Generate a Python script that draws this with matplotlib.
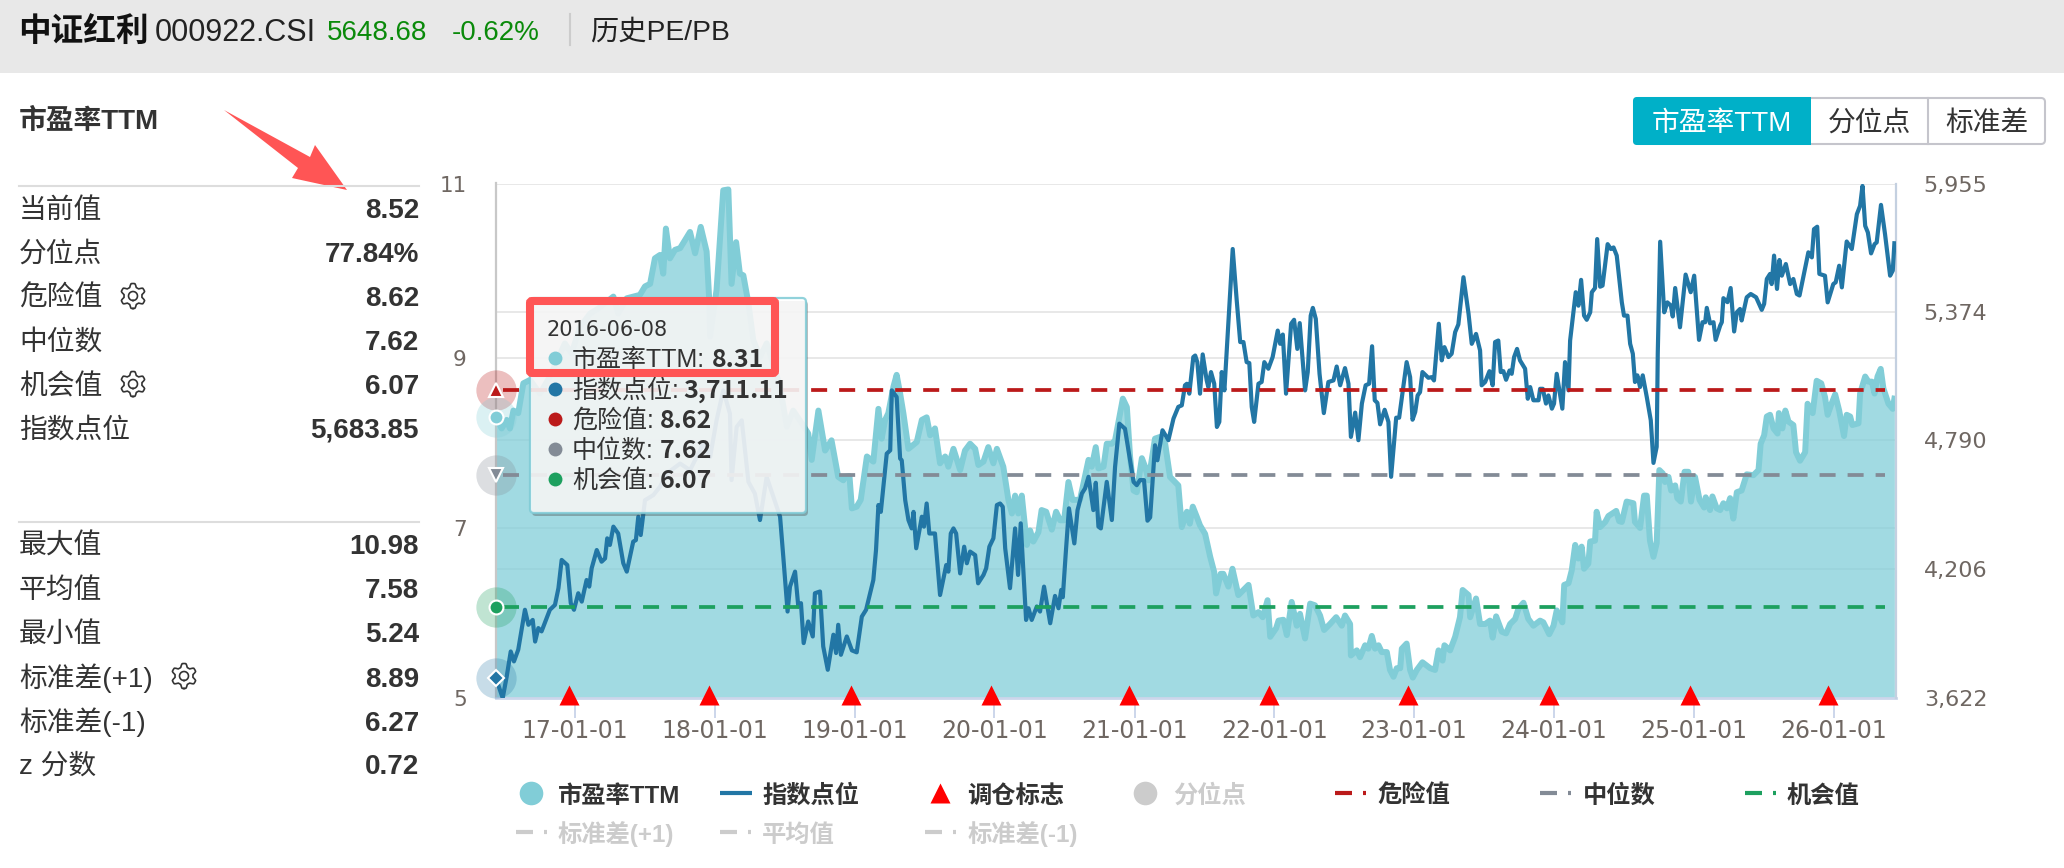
import matplotlib
matplotlib.use("Agg")
import matplotlib.pyplot as plt
import matplotlib.transforms as mtransforms
import numpy as np
from matplotlib.patches import FancyBboxPatch, Polygon, Rectangle

plt.rcParams["font.family"] = ["Liberation Sans", "Noto Sans CJK SC", "DejaVu Sans"]

W, H = 2064, 868

# weeks counted from the first trading date of the series
START = np.datetime64("2016-06-08")

pe_weeks = [
    0, 2.1, 4.0, 5.2, 6.5, 8.3, 10.2, 12.7, 16.4, 20.1, 25.7, 28.2, 31.3, 35.1, 38.2, 43.8, 45.6, 48.8,
    51.2, 53.7, 55.6, 57.5, 59.3, 61.2, 62.4, 63.4, 64.9, 66.8, 68.7, 72.4, 74.3, 76.4, 78.6, 79.5, 79.9,
    82.3, 84.8, 86.7, 87.9, 89.6, 91.0, 92.3, 94.2, 96.0, 98.5, 101.0, 106.0, 108.5, 110.9, 114.1, 116.5,
    117.8, 120.3, 122.8, 125.2, 127.7, 129.6, 130.3, 131.9, 132.8, 134.6, 136.1, 138.4, 140.8, 142.7,
    143.9, 145.2, 146.4, 148.3, 149.5, 150.8, 152.0, 153.9, 157.0, 158.9, 160.7, 162.0, 163.8, 165.7,
    167.6, 168.8, 170.7, 173.2, 175.0, 176.9, 178.8, 180.0, 181.9, 183.7, 185.6, 186.9, 189.3, 191.2,
    192.5, 193.7, 194.9, 196.2, 198.1, 199.3, 200.5, 202.4, 203.6, 205.3, 207.4, 209.0, 210.5, 212.0,
    213.6, 215.1, 217.9, 221.1, 222.3, 223.8, 224.8, 226.7, 227.9, 229.8, 231.0, 233.9, 235.4, 236.6,
    237.9, 239.1, 241.0, 242.2, 243.5, 245.9, 247.8, 249.7, 251.5, 254.6, 255.9, 257.8, 258.9, 260.0,
    261.5, 262.7, 264.6, 266.5, 268.0, 268.7, 270.4, 271.4, 273.3, 274.8, 277.0, 280.8, 282.6, 284.5,
    286.1, 287.9, 288.9, 291.1, 292.0, 293.8, 295.1, 296.9, 298.8, 300.0, 301.9, 303.8, 305.6, 307.5,
    309.0, 311.2, 313.5, 315.6, 316.8, 318.7, 319.0, 321.2, 322.4, 324.3, 325.5, 326.8, 328.0, 329.3,
    330.5, 332.4, 333.6, 334.9, 336.1, 337.4, 338.0, 339.8, 341.1, 342.1, 343.6, 345.7, 348.6, 350.4,
    351.7, 353.2, 353.9, 356.0, 357.9, 359.7, 360.7, 362.9, 363.5, 365.7, 367.2, 369.1, 370.9, 371.9,
    373.2, 375.3, 376.9, 378.4, 380.3, 381.5, 383.4, 385.2, 387.1, 389.6, 390.8, 393.0, 394.6, 395.8,
    397.9, 398.6, 400.2, 401.4, 402.7, 403.9, 405.1, 406.0, 407.6, 408.3, 410.1, 410.7, 412.0, 413.9,
    415.1, 418.0, 419.1, 420.1, 421.9, 424.4, 425.0, 426.9, 428.4, 429.4, 430.6, 431.9, 433.1, 434.1,
    435.4, 436.2, 437.5, 438.5, 440.0, 440.8, 442.1, 443.5, 444.9, 445.9, 447.4, 449.1, 450.8, 451.4,
    453.0, 453.9, 455.5, 456.8, 458.0, 459.3, 460.5, 461.7, 463.0, 464.8, 466.7, 469.2, 471.1, 471.9,
    473.2, 474.2, 475.4, 476.7, 478.2, 478.7, 480.0, 481.1, 482.3, 484.1, 485.1, 486.6, 488.5, 489.4,
    491.3, 492.8, 494.5, 495.9, 496.9, 498.1, 499.7, 501.2, 503.0, 504.0, 505.3, 506.1, 508.4, 509.0,
    510.9, 512.1, 513.4, 514.4, 515.5, 516.7, 517.7, 519.6, 521.2, 521.8,
]
pe_values = [
    8.31, 8.17, 8.27, 8.17, 8.38, 8.35, 8.70, 8.74, 8.58, 8.78, 9.17, 9.05, 9.36, 9.52, 9.58, 9.72, 9.52, 9.70,
    9.72, 9.74, 9.84, 9.87, 10.17, 10.21, 9.99, 10.52, 10.17, 10.27, 10.29, 10.48, 10.23, 10.54, 10.25, 9.72, 9.25,
    9.80, 10.97, 10.98, 9.87, 10.36, 9.99, 9.97, 9.64, 9.21, 9.01, 9.17, 8.66, 8.19, 8.38, 8.23, 8.11,
    7.80, 8.38, 7.91, 8.03, 7.60, 7.56, 7.60, 7.61, 7.23, 7.25, 7.33, 7.84, 7.78, 8.40,
    8.05, 8.27, 8.35, 8.66, 8.80, 8.58, 8.35, 7.93, 8.01, 8.27, 8.30, 8.09, 8.17, 7.76,
    7.84, 7.72, 7.93, 7.68, 7.91, 7.99, 7.93, 7.74, 7.78, 7.95, 7.76, 7.93, 7.72, 7.33,
    7.17, 7.38, 7.17, 7.38, 6.80, 6.97, 6.84, 6.95, 7.21, 7.19, 6.98, 7.19, 7.09, 7.09,
    7.54, 7.33, 7.33, 7.80, 7.72, 7.95, 7.70, 7.72, 7.99, 7.99, 8.03, 8.52, 8.42, 7.84,
    7.44, 7.42, 7.82, 7.72, 7.56, 8.05, 8.07, 7.99, 7.60, 7.50, 7.01, 7.19, 7.05, 7.25,
    7.13, 7.03, 6.93, 6.66, 6.48, 6.23, 6.46, 6.46, 6.31, 6.52, 6.21, 6.33, 5.97, 6.01,
    5.95, 6.15, 5.72, 5.82, 5.91, 5.92, 5.74, 6.13, 5.85, 5.99, 5.70, 6.11, 6.09, 5.97,
    5.80, 5.87, 5.95, 5.85, 5.97, 5.87, 5.50, 5.56, 5.48, 5.62, 5.58, 5.73, 5.58, 5.62,
    5.54, 5.54, 5.33, 5.25, 5.35, 5.35, 5.58, 5.64, 5.33, 5.24, 5.33, 5.42, 5.35, 5.33,
    5.56, 5.44, 5.62, 5.56, 5.72, 5.95, 6.27, 6.21, 5.95, 6.17, 5.87, 5.87, 5.91, 5.71,
    5.96, 5.78, 5.76, 5.87, 5.93, 6.05, 6.12, 5.93, 5.85, 5.91, 5.89, 5.75, 5.85, 6.03,
    5.89, 6.33, 6.35, 6.50, 6.80, 6.64, 6.78, 6.52, 6.58, 6.84, 6.85, 7.19, 7.01, 7.07,
    7.14, 7.20, 7.08, 7.07, 7.31, 7.29, 7.07, 7.00, 7.38, 7.38, 6.85, 6.66, 6.82, 7.68,
    7.64, 7.54, 7.60, 7.44, 7.50, 7.35, 7.31, 7.66, 7.66, 7.31, 7.60, 7.33, 7.24, 7.36,
    7.21, 7.37, 7.23, 7.21, 7.29, 7.23, 7.35, 7.11, 7.42, 7.44, 7.63, 7.62, 7.68, 7.99,
    8.09, 8.31, 8.33, 8.17, 8.11, 8.35, 8.17, 8.38, 8.25, 8.21, 7.89, 7.79, 7.89, 8.46,
    8.35, 8.73, 8.70, 8.54, 8.33, 8.44, 8.57, 8.38, 8.08, 8.33, 8.31, 8.21, 8.23, 8.58,
    8.78, 8.72, 8.72, 8.58, 8.78, 8.87, 8.64, 8.46, 8.40, 8.52,
]

index_weeks = [
    0, 2.5, 4.0, 5.5, 6.7, 8.3, 10.8, 12.1, 13.7, 14.6, 15.8, 17.0, 20.1, 22.0, 23.3, 24.5, 26.6, 27.9, 29.1,
    30.7, 32.0, 33.8, 34.8, 35.7, 37.6, 39.4, 40.7, 41.5, 42.5, 43.8, 45.6, 47.5, 48.8, 51.2, 52.2, 53.1, 54.0,
    55.0, 55.6, 58.7, 61.2, 63.7, 68.7, 72.4, 77.4, 79.9, 82.3, 84.8, 87.3, 87.9, 89.8, 91.7, 94.2, 96.6, 98.5,
    101.0, 103.5, 106.0, 107.2, 108.8, 109.7, 111.6, 112.8, 113.8, 114.8, 116.5, 118.2, 119.0, 120.9, 122.1,
    123.8, 125.9, 126.9, 127.7, 128.7, 130.9, 132.8, 134.6, 136.5, 138.1, 140.8, 141.8, 142.7, 143.6, 145.8,
    147.1, 147.7, 149.5, 150.8, 151.4, 152.7, 153.9, 155.1, 155.8, 156.8, 158.9, 159.7, 160.7, 161.7, 163.8,
    165.7, 168.0, 168.8, 169.7, 170.7, 171.7, 173.2, 174.7, 175.7, 176.9, 178.8, 179.9, 181.9, 182.9, 184.1,
    185.6, 186.9, 188.1, 189.1, 190.0, 191.8, 193.7, 194.8, 195.8, 197.8, 198.7, 199.9, 201.8, 203.0, 204.5,
    206.8, 208.6, 209.9, 210.9, 211.5, 212.6, 213.8, 215.8, 217.0, 218.6, 219.8, 221.1, 222.9, 223.8, 224.8,
    225.7, 227.9, 229.8, 231.0, 232.6, 234.7, 236.6, 237.9, 239.1, 240.3, 241.8, 243.1, 244.1, 245.9, 246.8,
    248.7, 250.9, 252.8, 254.6, 255.9, 257.1, 257.8, 258.7, 260.2, 260.9, 261.7, 262.7, 263.7, 265.2, 265.8,
    266.8, 268.0, 269.0, 269.9, 270.8, 271.8, 272.9, 274.9, 276.4, 277.7, 278.9, 280.1, 281.1, 282.0, 282.9,
    284.5, 285.7, 286.7, 288.2, 289.8, 291.7, 292.6, 293.6, 294.8, 296.7, 297.8, 299.0, 299.9, 301.9, 302.9,
    304.0, 304.8, 305.9, 307.3, 308.9, 310.6, 312.5, 313.7, 315.0, 316.8, 318.1, 319.0, 320.6, 321.8, 323.1,
    324.5, 325.8, 326.9, 327.9, 328.9, 329.9, 331.6, 333.0, 334.0, 335.9, 337.0, 339.8, 341.1, 342.0, 343.0,
    343.9, 344.8, 345.7, 347.9, 349.2, 350.0, 351.8, 352.9, 353.9, 355.4, 356.6, 357.9, 359.1, 361.0, 362.9,
    364.1, 365.7, 367.2, 367.8, 369.1, 370.7, 371.9, 372.8, 374.0, 374.9, 375.9, 376.9, 378.2, 379.0, 379.9,
    381.0, 382.1, 384.0, 385.0, 385.9, 387.1, 389.0, 389.6, 390.6, 391.8, 392.7, 394.0, 394.8, 395.8, 397.9,
    398.9, 400.2, 400.8, 402.9, 403.9, 404.9, 406.0, 407.0, 408.3, 408.9, 410.1, 410.9, 412.0, 412.9, 414.8,
    416.0, 417.0, 418.2, 420.1, 420.9, 422.2, 423.2, 424.2, 425.0, 425.9, 426.9, 427.9, 429.4, 430.9, 431.9,
    433.1, 433.5, 434.4, 435.9, 437.1, 438.4, 439.1, 440.0, 441.8, 443.9, 445.8, 447.1, 448.9, 450.2, 451.2,
    451.8, 453.0, 454.3, 455.1, 456.8, 457.4, 458.0, 459.5, 460.7, 462.0, 463.0, 464.2, 464.8, 466.7, 468.2,
    470.2, 472.3, 473.2, 474.2, 475.4, 476.0, 476.9, 478.0, 478.9, 479.8, 481.3, 482.9, 484.1, 485.4, 486.4,
    487.9, 489.7, 491.0, 491.8, 493.0, 493.8, 495.9, 496.9, 499.0, 499.9, 501.2, 502.2, 504.0, 505.9, 507.8,
    509.0, 509.9, 510.9, 511.9, 513.1, 514.4, 515.2, 516.8, 518.3, 520.2, 521.2, 521.8,
]
index_values = [
    3711, 3622, 3720, 3833, 3788, 3841, 4022, 3954, 3976, 3878, 3939, 3924, 4022, 4044, 4120, 4248, 4225, 4052, 4022,
    4097, 4059, 4157, 4127, 4210, 4293, 4240, 4255, 4346, 4316, 4399, 4368, 4233, 4195, 4331, 4338, 4444, 4361,
    4459, 4519, 4542, 4580, 4640, 4685, 4655, 4776, 4715, 4881, 5017, 4911, 4610, 4851, 4881, 4602, 4549, 4429,
    4625, 4534, 4444, 4263, 4014, 4127, 4195, 4037, 4052, 3871, 3969, 3901, 4097, 4105, 3856,
    3750, 3909, 3826, 3954, 3818, 3901, 3838, 3829, 3991, 4022, 4157, 4293, 4497, 4466, 4730,
    4745, 5017, 4987, 4708, 4700, 4519, 4429, 4391, 4466, 4301, 4444, 4399, 4504, 4368, 4368,
    4089, 4225, 4195, 4368, 4391, 4368, 4187, 4308, 4233, 4286, 4270, 4142, 4180, 4210, 4308,
    4346, 4497, 4504, 4489, 4301, 4120, 4391, 4180, 4414, 3976, 4029, 3976, 4037, 4014, 4127,
    3961, 4085, 4029, 4112, 4079, 4278, 4482, 4323, 4474, 4549, 4572, 4625, 4474, 4598, 4399,
    4391, 4602, 4429, 4670, 4866, 4843, 4700, 4602, 4587, 4610, 4610, 4426, 4441, 4768, 4700,
    4836, 4791, 4889, 4942, 4949, 5040, 5047, 5002, 5168, 5175, 5145, 5002, 5180, 5062, 5032,
    5100, 5047, 4851, 4874, 5100, 5017, 5243, 5658, 5424, 5236, 5236, 5145, 5141, 4942, 4874,
    5047, 5055, 5145, 5115, 5168, 5288, 5228, 5270, 5002, 5319, 5337, 5205, 5322, 5017, 5100,
    5356, 5391, 5341, 5092, 4914, 5055, 5062, 5125, 5040, 5118, 5047, 4806, 4916, 4791, 4957,
    5040, 5047, 5217, 4972, 4960, 4863, 4929, 4874, 4625, 4893, 4893, 5145, 5077, 4884, 4919,
    4994, 5009, 5100, 5074, 5077, 5062, 5319, 5153, 5213, 5168, 5183, 5281, 5316, 5530, 5364,
    5228, 5273, 5198, 5040, 5055, 5104, 5040, 5236, 5243, 5100, 5104, 5065, 5107, 5092, 5168,
    5205, 5153, 5115, 4979, 5032, 4972, 4972, 5024, 5024, 4957, 4994, 4934, 4957, 5092, 4934,
    5145, 5017, 5243, 5462, 5401, 5518, 5356, 5337, 5371, 5462, 5481, 5703, 5487, 5492, 5680,
    5658, 5665, 5628, 5416, 5356, 5356, 5228, 5183, 5055, 5085, 5032, 5085, 4987, 4881, 4688,
    4761, 5183, 5691, 5371, 5416, 5401, 5352, 5481, 5303, 5542, 5462, 5537, 5246, 5326, 5326,
    5391, 5321, 5326, 5246, 5311, 5326, 5435, 5417, 5481, 5284, 5371, 5386, 5334, 5439, 5454,
    5439, 5382, 5409, 5522, 5545, 5499, 5628, 5477, 5608, 5537, 5590, 5499, 5522, 5454, 5447,
    5537, 5643, 5620, 5748, 5759, 5545, 5537, 5416, 5499, 5507, 5582, 5484, 5692, 5658, 5816,
    5854, 5944, 5763, 5733, 5638, 5680, 5688, 5858, 5726, 5537, 5560, 5684,
]

# rebalance flags, weeks from the start date
rebalance_weeks = [27.1, 79.3, 132.5, 184.7, 236.2, 288.3, 340.3, 392.9, 445.7, 497.0]

danger_value = 8.62
median_value = 7.62
chance_value = 6.07

left_ticks = [5, 7, 9, 11.05]
left_tick_labels = ["5", "7", "9", "11"]
right_ticks = [3622, 4206, 4790, 5374, 5955]
right_tick_labels = ["3,622", "4,206", "4,790", "5,374", "5,955"]
year_ticks = ["2017-01-01", "2018-01-01", "2019-01-01", "2020-01-01", "2021-01-01",
              "2022-01-01", "2023-01-01", "2024-01-01", "2025-01-01", "2026-01-01"]
year_tick_labels = ["17-01-01", "18-01-01", "19-01-01", "20-01-01", "21-01-01",
                    "22-01-01", "23-01-01", "24-01-01", "25-01-01", "26-01-01"]

stat_labels_top = ["当前值", "分位点", "危险值", "中位数", "机会值", "指数点位"]
stat_values_top = ["8.52", "77.84%", "8.62", "7.62", "6.07", "5,683.85"]
stat_rows_top = [208, 252, 296, 340, 384, 428]
stat_labels_bottom = ["最大值", "平均值", "最小值", "标准差(+1)", "标准差(-1)", "z 分数"]
stat_values_bottom = ["10.98", "7.58", "5.24", "8.89", "6.27", "0.72"]
stat_rows_bottom = [544, 588, 632, 677, 721, 764]

tip_labels = ["市盈率TTM:", "指数点位:", "危险值:", "中位数:", "机会值:"]
tip_values = ["8.31", "3,711.11", "8.62", "7.62", "6.07"]

C_PE = "#81cdd7"
C_FILL = "#7fcdd8"
C_INDEX = "#2276a5"
C_DANGER = "#bb1a1a"
C_MEDIAN = "#838b96"
C_CHANCE = "#1da05f"
C_GRID = "#e6e6e6"
C_TEXT = "#333333"
C_TICK = "#6f6762"
C_OFF = "#cccccc"
TICK_FONT = ["DejaVu Sans"]


def to_dates(weeks):
    return START + (np.array(weeks) * 7 * 24).astype("timedelta64[h]")


fig = plt.figure(figsize=(W / 100, H / 100), dpi=100, facecolor="white")

# chart area
PLOT_L, PLOT_R, PLOT_T, PLOT_B = 496, 1896, 183.5, 698
ax = fig.add_axes([PLOT_L / W, 1 - PLOT_B / H, (PLOT_R - PLOT_L) / W, (PLOT_B - PLOT_T) / H])
ax2 = ax.twinx()
ax.set_xlim(START, to_dates([522.4])[0])
ax.set_ylim(5, 11.05)
ax2.set_ylim(3622, 5955)
ax.patch.set_visible(False)
ax2.patch.set_visible(False)

pe_t = to_dates(pe_weeks)
index_t = to_dates(index_weeks)

ax.fill_between(pe_t, pe_values, 5, color=C_FILL, alpha=0.73, lw=0, zorder=2)
ax.plot(pe_t, pe_values, color=C_PE, lw=4.3, solid_joinstyle="round", zorder=3)
ax2.plot(index_t, index_values, color=C_INDEX, lw=3.0, solid_joinstyle="round", zorder=3)

# grid lines for both value scales, under the area
for v in left_ticks:
    ax.axhline(v, color=C_GRID, lw=1.3, zorder=1)
right_grid = mtransforms.blended_transform_factory(ax.transAxes, ax2.transData)
for v in right_ticks:
    ax.plot([0, 1], [v, v], transform=right_grid, color=C_GRID, lw=1.3, zorder=1)

# marklines and flags sit on the top axes but use the PE scale
pe_on_top = mtransforms.blended_transform_factory(ax2.transData, ax.transData)
line_t = to_dates([2.5, 518.3])
for v, c in [(danger_value, C_DANGER), (median_value, C_MEDIAN), (chance_value, C_CHANCE)]:
    ax2.plot(line_t, [v, v], transform=pe_on_top, color=c, lw=2.7,
             dashes=(4.27, 3.2), dash_capstyle="butt", zorder=5)

ax2.plot(to_dates(rebalance_weeks), [5.03] * len(rebalance_weeks), transform=pe_on_top, ls="none",
         marker="^", ms=14.4, mfc="#ff0000", mec="none", clip_on=False, zorder=6)

# endpoint symbols on the left axis
halos = [(danger_value, C_DANGER, "^"), (pe_values[0], C_PE, "o"), (median_value, C_MEDIAN, "v"),
         (chance_value, C_CHANCE, "o")]
for v, c, mk in halos:
    ax2.plot(to_dates([0]), [v], transform=pe_on_top, marker="o", ms=29, mfc=c, mec="none",
             alpha=0.28, clip_on=False, zorder=7)
    ax2.plot(to_dates([0]), [v], transform=pe_on_top, marker=mk, ms=10, mfc=c, mec="white", mew=1.5,
             clip_on=False, zorder=8)
ax2.plot(to_dates([0]), [index_values[0]], marker="o", ms=29, mfc=C_INDEX, mec="none", alpha=0.25,
         clip_on=False, zorder=7)
ax2.plot(to_dates([0]), [index_values[0]], marker="D", ms=8, mfc=C_INDEX, mec="white", mew=1.5,
         clip_on=False, zorder=8)

# axes dressing
for a in (ax, ax2):
    for s in a.spines.values():
        s.set_visible(False)
ax.spines["left"].set_visible(True)
ax.spines["left"].set(color="#c8c8c8", linewidth=1.6)
ax.spines["bottom"].set_visible(True)
ax.spines["bottom"].set(color="#ccd6eb", linewidth=2.0)
ax2.spines["right"].set_visible(True)
ax2.spines["right"].set(color="#c4d0e0", linewidth=1.6)

ax.set_yticks(left_ticks)
ax.set_yticklabels(left_tick_labels, family=TICK_FONT, fontsize=15.5, color=C_TICK)
ax2.set_yticks(right_ticks)
ax2.set_yticklabels(right_tick_labels, family=TICK_FONT, fontsize=16, color=C_TICK)
ax.tick_params(axis="y", length=0, pad=21)
ax2.tick_params(axis="y", length=0, pad=20)
ax.set_xticks(np.array(year_ticks, dtype="datetime64[D]"))
ax.set_xticklabels(year_tick_labels, family=TICK_FONT, fontsize=17, color=C_TICK)
ax.tick_params(axis="x", length=14.4, width=1.4, color="#ccd6eb", pad=0.5)

# page furniture drawn in pixel coordinates
ui = fig.add_axes([0, 0, 1, 1], zorder=10)
ui.set_xlim(0, W)
ui.set_ylim(H, 0)
ui.axis("off")

ui.add_patch(Rectangle((0, 0), W, 73, fc="#e8e8e8", ec="none"))
ui.text(18, 41, "中证红利", fontsize=23.5, fontweight="bold", color="#111111")
ui.text(155, 41, "000922.CSI", fontsize=22, color="#222222")
ui.text(327, 40, "5648.68", fontsize=20, color="#0a8a0a")
ui.text(452, 40, "-0.62%", fontsize=20, color="#0a8a0a")
ui.plot([570, 570], [14, 45], color="#cccccc", lw=1.5)
ui.text(590, 40, "历史PE/PB", fontsize=20.3, color="#222222")

ui.text(19, 129, "市盈率TTM", fontsize=20, fontweight="bold", color=C_TEXT)


def gear(cx, cy, r=12.5):
    a = np.linspace(0, 2 * np.pi, 200)
    rr = r * (0.86 + 0.14 * np.clip(1.6 * np.cos(6 * a), -1, 1))
    ui.plot(cx + rr * np.sin(a), cy + rr * np.cos(a), color="#333333", lw=1.2)
    ui.plot(cx + r * 0.36 * np.sin(a), cy + r * 0.36 * np.cos(a), color="#333333", lw=1.2)


ui.plot([19, 419], [185.7, 185.7], color="#dddddd", lw=1.5)
for lab, val, y in zip(stat_labels_top, stat_values_top, stat_rows_top):
    ui.text(19, y + 10, lab, fontsize=20, color=C_TEXT)
    ui.text(419, y + 10, val, fontsize=20, fontweight="bold", color=C_TEXT, ha="right")
gear(133, 296)
gear(133, 384)

ui.plot([19, 419], [522, 522], color="#dddddd", lw=1.5)
for lab, val, y in zip(stat_labels_bottom, stat_values_bottom, stat_rows_bottom):
    ui.text(19, y + 10, lab, fontsize=20, color=C_TEXT)
    ui.text(419, y + 10, val, fontsize=20, fontweight="bold", color=C_TEXT, ha="right")
gear(184, 676)

# callout arrow
ui.add_patch(Polygon([(224, 110), (310, 157), (315, 145), (347, 190), (292, 178), (298, 168)],
                     closed=True, fc="#ff5555", ec="none"))

# view switch buttons
ui.add_patch(FancyBboxPatch((1634, 98), 411, 46, boxstyle="round,pad=0,rounding_size=4",
                            fc="white", ec="#c5c5cc", lw=1.5))
ui.add_patch(FancyBboxPatch((1633, 97), 178, 48, boxstyle="round,pad=0,rounding_size=4",
                            fc="#00b0c8", ec="none"))
ui.add_patch(Rectangle((1790, 97), 21, 48, fc="#00b0c8", ec="none"))
ui.plot([1928, 1928], [98, 144], color="#c5c5cc", lw=1.5)
ui.text(1722, 131, "市盈率TTM", fontsize=20, color="white", ha="center")
ui.text(1869, 131, "分位点", fontsize=20, color=C_TEXT, ha="center")
ui.text(1987, 131, "标准差", fontsize=20, color=C_TEXT, ha="center")

# tooltip
ui.add_patch(FancyBboxPatch((532, 301), 276, 215, boxstyle="round,pad=0,rounding_size=4",
                            fc="#444444", ec="none", alpha=0.35, zorder=2))
ui.add_patch(FancyBboxPatch((530, 298), 276, 215, boxstyle="round,pad=0,rounding_size=4",
                            fc="white", ec="#7fcbd6", lw=1.6, alpha=0.86, zorder=3))
ui.text(547, 330, "2016-06-08", family=TICK_FONT, fontsize=15, color="#333333", va="center", zorder=4)
tip_rows = [358, 389, 419, 449, 479]
tip_dots = [C_PE, C_INDEX, C_DANGER, C_MEDIAN, C_CHANCE]
tip_value_x = [712, 683, 660, 660, 660]
for lab, val, y, c, vx in zip(tip_labels, tip_values, tip_rows, tip_dots, tip_value_x):
    ui.plot([555], [y], marker="o", ms=10, mfc=c, mec="none", zorder=4)
    ui.text(572, y + 9, lab, fontsize=18, color="#333333", zorder=4)
    ui.text(vx, y + 9, val, family=["Noto Sans CJK SC"], fontsize=18, fontweight="bold", color="#333333",
            zorder=4)

# highlight frame around the first tooltip rows
ui.add_patch(FancyBboxPatch((530, 301), 245, 72, boxstyle="round,pad=0,rounding_size=2",
                            fc="none", ec="#ff5555", lw=5.8, zorder=5))

# legend
ROW1, ROW2 = 793, 832


def legend_text(x, y, s, on=True):
    ui.text(x, y + 10, s, fontsize=17.5, fontweight="bold", color=C_TEXT if on else C_OFF)


def legend_dash(x, y, c):
    ui.plot([x, x + 17], [y, y], color=c, lw=3, solid_capstyle="butt")
    ui.plot([x + 28, x + 31], [y, y], color=c, lw=3, solid_capstyle="butt")


ui.plot([531], [ROW1], marker="o", ms=17, mfc=C_PE, mec="none")
legend_text(558, ROW1, "市盈率TTM")
ui.plot([720, 752], [ROW1, ROW1], color=C_INDEX, lw=3, solid_capstyle="butt")
legend_text(762, ROW1, "指数点位")
ui.plot([940], [ROW1], marker="^", ms=14, mfc="#ff0000", mec="none")
legend_text(967, ROW1, "调仓标志")
ui.plot([1145], [ROW1], marker="o", ms=17, mfc=C_OFF, mec="none")
legend_text(1173, ROW1, "分位点", on=False)
legend_dash(1335, ROW1, C_DANGER)
legend_text(1377, ROW1, "危险值")
legend_dash(1540, ROW1, C_MEDIAN)
legend_text(1583, ROW1, "中位数")
legend_dash(1745, ROW1, C_CHANCE)
legend_text(1787, ROW1, "机会值")
legend_dash(516, ROW2, C_OFF)
legend_text(558, ROW2, "标准差(+1)", on=False)
legend_dash(720, ROW2, C_OFF)
legend_text(762, ROW2, "平均值", on=False)
legend_dash(925, ROW2, C_OFF)
legend_text(968, ROW2, "标准差(-1)", on=False)

fig.savefig("out.png", dpi=100)
